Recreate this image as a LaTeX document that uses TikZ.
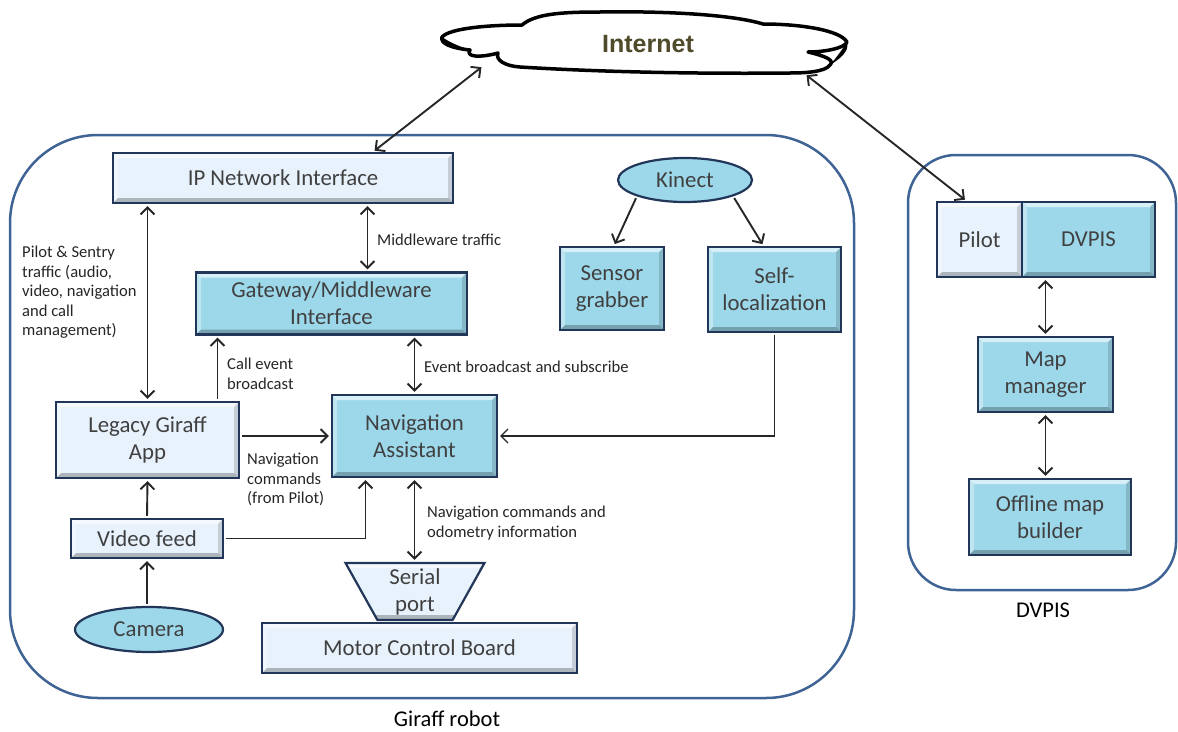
\documentclass[tikz,border=0pt]{standalone}
\usepackage{fontspec}
\setmainfont{Carlito}
\newfontfamily\cloudfont{Liberation Sans}
\usetikzlibrary{arrows.meta,shapes.geometric,positioning}

\definecolor{boxlight}{RGB}{232,242,252}
\definecolor{boxcyan}{RGB}{157,216,234}
\definecolor{boxedge}{RGB}{33,54,88}
\definecolor{frameblue}{RGB}{62,99,148}
\definecolor{linegray}{RGB}{38,38,38}
\definecolor{txtgray}{RGB}{64,64,64}
\definecolor{netolive}{RGB}{79,74,42}

\tikzset{
  bevel/.style={path picture={
      \fill[white, opacity=.6] (path picture bounding box.north west) -- (path picture bounding box.north east)
        -- ([shift={(-5pt,-5pt)}]path picture bounding box.north east) -- ([shift={(5pt,-5pt)}]path picture bounding box.north west) -- cycle;
      \fill[white, opacity=.35] (path picture bounding box.north west) -- ([shift={(5pt,-5pt)}]path picture bounding box.north west)
        -- ([shift={(5pt,5pt)}]path picture bounding box.south west) -- (path picture bounding box.south west) -- cycle;
      \fill[black, opacity=.25] (path picture bounding box.south west) -- (path picture bounding box.south east)
        -- ([shift={(-5pt,5pt)}]path picture bounding box.south east) -- ([shift={(5pt,5pt)}]path picture bounding box.south west) -- cycle;
      \fill[black, opacity=.15] (path picture bounding box.north east) -- (path picture bounding box.south east)
        -- ([shift={(-5pt,5pt)}]path picture bounding box.south east) -- ([shift={(-5pt,-5pt)}]path picture bounding box.north east) -- cycle;
    }},
  blk/.style={rectangle, draw=boxedge, line width=2.2pt, inner sep=2pt, align=center,
    text=txtgray, font=\fontsize{22.8}{27}\selectfont, bevel},
  lightblk/.style={blk, fill=boxlight},
  cyanblk/.style={blk, fill=boxcyan},
  oval/.style={ellipse, draw=boxedge, line width=2.2pt, fill=boxcyan, inner sep=0pt,
    text=txtgray, font=\fontsize{22.8}{27}\selectfont},
  zone/.style={rectangle, draw=frameblue, line width=2.5pt},
  lbl/.style={inner sep=0pt, align=left, text=black!85, font=\fontsize{16.6}{19.5}\selectfont},
  arr/.style={draw=linegray, line width=1.9pt, shorten >=2pt, shorten <=2pt},
}

\begin{document}
\begin{tikzpicture}[x=1pt, y=-1pt, >={Straight Barb[length=7pt,width=14pt]}]
\useasboundingbox (0,0) rectangle (1178,731);

% outer frames
\node[zone, minimum width=844pt, minimum height=563pt, rounded corners=88pt] (robot) at (432,416.5) {};
\node[zone, minimum width=268pt, minimum height=435pt, rounded corners=48pt] (dvpiszone) at (1042,372.5) {};
\node[font=\fontsize{22.5}{26}\selectfont] (robotlbl) at (447,719) {Giraff robot};
\node[font=\fontsize{22.5}{26}\selectfont] (dvpislbl) at (1043,610) {DVPIS};

% internet cloud
\draw[black, line width=3.5pt, line join=round, fill=white]
  (442,37) .. controls (450,28) and (490,25) .. (522,25)
  .. controls (535,14) and (560,12) .. (600,12)
  .. controls (660,11) and (730,14) .. (763,24)
  .. controls (800,24) and (840,30) .. (847,42)
  .. controls (845,48) and (825,52) .. (808,52)
  .. controls (825,56) and (835,60) .. (830,65)
  .. controls (825,72) and (805,73) .. (790,73)
  .. controls (700,74) and (600,72) .. (520,67)
  .. controls (505,66) and (495,60) .. (498,53)
  .. controls (480,58) and (465,57) .. (470,50)
  .. controls (450,48) and (440,43) .. (442,37) -- cycle;
% darker rims of the lobes
\fill[black] (442,37) .. controls (440,44) and (452,48) .. (470,50) .. controls (462,47) and (452,44) .. (442,37) -- cycle;
\fill[black] (847,42) .. controls (850,52) and (838,60) .. (830,65) .. controls (836,58) and (842,50) .. (847,42) -- cycle;
\node[text=netolive, font=\cloudfont\bfseries\fontsize{25}{30}\selectfont] (net) at (648,44) {Internet};

% robot side
\node[lightblk, minimum width=340pt, minimum height=50pt] (ipni) at (283,178) {IP Network Interface};
\node[cyanblk, minimum width=271pt, minimum height=62pt] (gate) at (331.5,303.5) {Gateway/Middleware\\Interface};
\node[oval, minimum width=134pt, minimum height=44pt] (kinect) at (685,180) {Kinect};
\node[cyanblk, minimum width=104pt, minimum height=83pt] (sensor) at (612,288.5) {Sensor\\grabber};
\node[cyanblk, minimum width=133pt, minimum height=85pt] (selfloc) at (774.5,289.5) {Self-\\localization};
\node[lightblk, minimum width=183pt, minimum height=76pt] (legacy) at (147.5,440) {Legacy Giraff\\App};
\node[cyanblk, minimum width=165pt, minimum height=82pt] (navasst) at (414.5,436) {Navigation\\Assistant};
\node[lightblk, minimum width=152pt, minimum height=39pt] (video) at (147,538.5) {Video feed};
\node[oval, minimum width=148pt, minimum height=45pt] (camera) at (149,629.5) {Camera};
\node[lightblk, trapezium, shape border rotate=180, trapezium left angle=65, trapezium right angle=65,
  trapezium stretches=true, minimum width=140pt, minimum height=57pt, inner sep=0pt] (serial) at (415,591.5) {Serial\\port};
\node[lightblk, minimum width=315pt, minimum height=50pt] (motor) at (419.5,648) {Motor Control Board};

% dvpis side
\node[lightblk, minimum width=85pt, minimum height=75pt] (pilot) at (979.5,239.5) {Pilot};
\node[cyanblk, minimum width=133pt, minimum height=75pt] (dvpis) at (1088.5,239.5) {DVPIS};
\node[cyanblk, minimum width=135pt, minimum height=75pt] (mapmgr) at (1045.5,374.5) {Map\\manager};
\node[cyanblk, minimum width=162pt, minimum height=76pt] (offline) at (1050,517) {Offline map\\builder};

% connectors
\draw[arr,<->] ([xshift=-165pt,yshift=-22pt]net.center) -- ([xshift=90pt]ipni.north);
\draw[arr,<->] ([xshift=157pt,yshift=-30pt]net.center) -- ([xshift=-13pt]pilot.north);

\draw[arr,<->] (ipni.south -| legacy.north) -- (legacy.north);
\node[lbl, anchor=north west] (trafficlbl) at (22,246) {Pilot \& Sentry\\traffic (audio,\\video, navigation\\and call\\management)};

\coordinate (mwx) at ([xshift=36pt]gate.north);
\draw[arr,<->] (mwx) -- (mwx |- ipni.south);
\node[lbl, anchor=west] (mwlbl) at (377,240) {Middleware traffic};

\draw[arr,<->] (navasst.north) -- (navasst.north |- gate.south);
\node[lbl, anchor=west] (evlbl) at (424,367) {Event broadcast and subscribe};

\coordinate (callx) at ([xshift=70pt]legacy.north);
\draw[arr,->] (callx) -- (callx |- gate.south);
\node[lbl, anchor=west] (calllbl) at (227,374) {Call event\\broadcast};

\draw[arr,->] (legacy.east |- navasst.west) -- (navasst.west);
\node[lbl, anchor=north west] (cmdlbl) at (247,453) {Navigation\\commands\\(from Pilot)};

\draw[arr,->] (video.north) -- (legacy.south);
\draw[arr,->] (video.south |- camera.north) -- (video.south);
\coordinate (vidx) at ([xshift=-49pt]navasst.south);
\draw[arr,->] (video.east) -| (vidx);
\draw[arr,->, line width=1.3pt] (selfloc.south) |- (navasst.east);

\draw[arr,<->] (navasst.south) -- (navasst.south |- serial.north);
\node[lbl, anchor=west] (odolbl) at (427,523) {Navigation commands and\\odometry information};

\draw[arr,->] (kinect.south west) -- ([xshift=2pt]sensor.north);
\draw[arr,->] (kinect.south east) -- ([xshift=-11pt]selfloc.north);

\draw[arr,<->] (mapmgr.north) -- (mapmgr.north |- dvpis.south);
\draw[arr,<->] (mapmgr.south) -- (mapmgr.south |- offline.north);
\end{tikzpicture}
\end{document}
